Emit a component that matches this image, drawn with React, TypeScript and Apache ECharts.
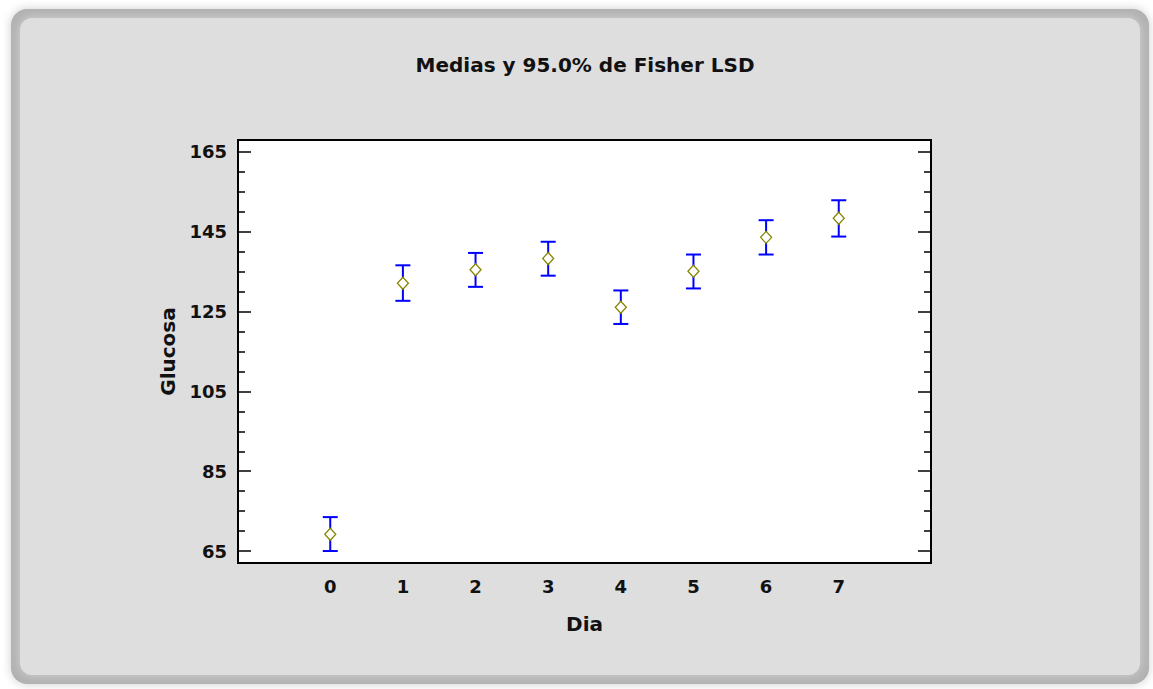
import React, { useEffect, useRef } from "react";
import * as echarts from "echarts";

const days = [0, 1, 2, 3, 4, 5, 6, 7];
const means = [69.2, 132.1, 135.5, 138.3, 126.1, 135.1, 143.6, 148.4];
const lower = [65.0, 127.7, 131.2, 134.0, 121.9, 130.8, 139.3, 143.8];
const upper = [73.5, 136.6, 139.7, 142.5, 130.3, 139.3, 147.9, 152.9];
const yMajorTicks = [65, 85, 105, 125, 145, 165];
const yMinorTicks = [70, 75, 80, 90, 95, 100, 110, 115, 120, 130, 135, 140, 150, 155, 160];

const FONT = "'DejaVu Sans', sans-serif";
const TEXT = "#111111";

export default function App() {
  const ref = useRef<HTMLDivElement>(null);
  useEffect(() => {
    if (!ref.current) return;
    const chart = echarts.init(ref.current, null, { renderer: "svg" });
    const yBase = {
      type: "value",
      min: 62,
      max: 168,
      splitLine: { show: false },
      axisLine: { show: true, onZero: false, lineStyle: { color: "#000", width: 2 } },
    };
    const option: any = {
      animation: false,
      backgroundColor: "#ffffff",
      graphic: {
        elements: [
          {
            type: "rect",
            z: -100,
            shape: { x: 11, y: 9, width: 1138, height: 675, r: 16 },
            style: { fill: "#b2b2b2", shadowBlur: 10, shadowColor: "rgba(0,0,0,0.2)" },
          },
          {
            type: "rect",
            z: -99,
            shape: { x: 20, y: 18, width: 1120, height: 657, r: 12 },
            style: { fill: "#dedede", shadowBlur: 10, shadowColor: "#d4d4d4" },
          },
          {
            type: "text",
            z: 10,
            x: 585,
            y: 65,
            style: {
              text: "Medias y 95.0% de Fisher LSD",
              fill: TEXT,
              font: `bold 20px ${FONT}`,
              textAlign: "center",
              textVerticalAlign: "middle",
            },
          },
        ],
      },
      grid: {
        left: 238,
        top: 140,
        right: 222,
        bottom: 126,
        show: true,
        backgroundColor: "#ffffff",
        borderColor: "#000",
        borderWidth: 2,
      },
      xAxis: [
        {
          type: "value",
          min: -1.27,
          max: 8.27,
          position: "bottom",
          name: "Dia",
          nameLocation: "middle",
          nameGap: 51,
          nameTextStyle: { fontFamily: FONT, fontWeight: "bold", fontSize: 20, color: TEXT },
          splitLine: { show: false },
          axisLine: { show: true, onZero: false, lineStyle: { color: "#000", width: 2 } },
          axisTick: { show: false },
          axisLabel: {
            customValues: days,
            fontFamily: FONT,
            fontWeight: "bold",
            fontSize: 18,
            color: TEXT,
            margin: 14,
          },
        },
        {
          type: "value",
          min: -1.27,
          max: 8.27,
          position: "top",
          splitLine: { show: false },
          axisLine: { show: true, onZero: false, lineStyle: { color: "#000", width: 2 } },
          axisTick: { show: false },
          axisLabel: { show: false },
        },
      ],
      yAxis: [
        {
          ...yBase,
          position: "left",
          name: "Glucosa",
          nameLocation: "middle",
          nameGap: 60,
          nameTextStyle: { fontFamily: FONT, fontWeight: "bold", fontSize: 20, color: TEXT },
          axisTick: { show: true, inside: true, length: 13, customValues: yMajorTicks, lineStyle: { color: "#000", width: 1.5 } },
          axisLabel: {
            customValues: yMajorTicks,
            fontFamily: FONT,
            fontWeight: "bold",
            fontSize: 18,
            color: TEXT,
            margin: 11,
          },
        },
        {
          ...yBase,
          position: "left",
          axisTick: { show: true, inside: true, length: 7, customValues: yMinorTicks, lineStyle: { color: "#000", width: 1.5 } },
          axisLabel: { show: false },
        },
        {
          ...yBase,
          position: "right",
          axisTick: { show: true, inside: true, length: 13, customValues: yMajorTicks, lineStyle: { color: "#000", width: 1.5 } },
          axisLabel: { show: false },
        },
        {
          ...yBase,
          position: "right",
          axisTick: { show: true, inside: true, length: 7, customValues: yMinorTicks, lineStyle: { color: "#000", width: 1.5 } },
          axisLabel: { show: false },
        },
      ],
      series: [
        {
          type: "custom",
          xAxisIndex: 0,
          yAxisIndex: 0,
          data: days.map((d, i) => [d, lower[i], upper[i]]),
          renderItem: (params: any, api: any) => {
            const x = api.value(0);
            const lo = api.coord([x, api.value(1)]);
            const hi = api.coord([x, api.value(2)]);
            const hw = 7.5;
            const style = { stroke: "#0000ff", lineWidth: 2 };
            return {
              type: "group",
              children: [
                { type: "line", shape: { x1: lo[0], y1: lo[1], x2: hi[0], y2: hi[1] }, style },
                { type: "line", shape: { x1: lo[0] - hw, y1: lo[1], x2: lo[0] + hw, y2: lo[1] }, style },
                { type: "line", shape: { x1: hi[0] - hw, y1: hi[1], x2: hi[0] + hw, y2: hi[1] }, style },
              ],
            };
          },
          z: 2,
        },
        {
          type: "scatter",
          xAxisIndex: 0,
          yAxisIndex: 0,
          data: days.map((d, i) => [d, means[i]]),
          symbol: "diamond",
          symbolSize: [11, 12],
          itemStyle: { color: "#ffffff", borderColor: "#858500", borderWidth: 1.3, opacity: 1 },
          z: 3,
        },
      ],
    };
    chart.setOption(option);
    return () => chart.dispose();
  }, []);
  return (
    <div
      ref={ref}
      style={{ position: "absolute", left: 0, top: 0, width: 1153, height: 689 }}
    />
  );
}
